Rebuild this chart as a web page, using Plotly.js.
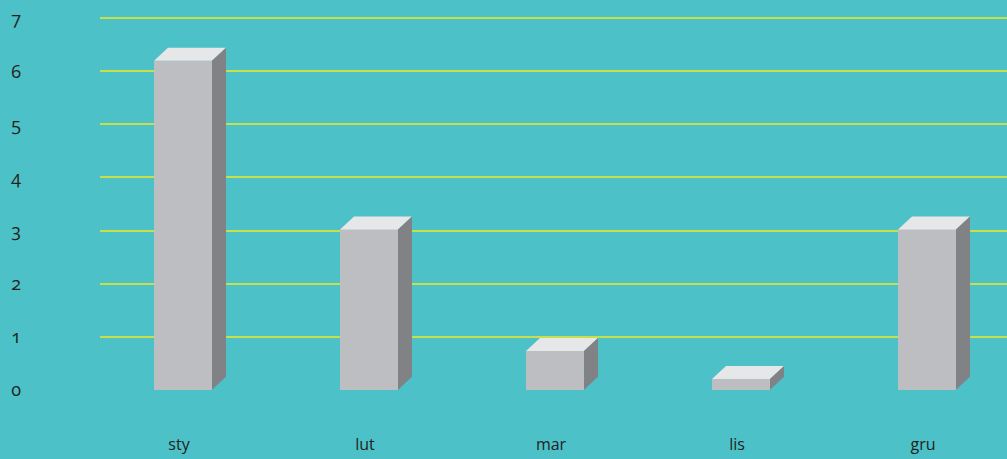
<!DOCTYPE html>
<html>
<head>
<meta charset="utf-8">
<script src="https://cdn.plot.ly/plotly-3.0.1.min.js"></script>
<style>
html,body{margin:0;padding:0;background:#4cc1c7;}
#chart{width:1007px;height:459px;}
.ytick text{font-feature-settings:"onum" 1;font-variant-numeric:oldstyle-nums;}
</style>
</head>
<body>
<div id="chart"></div>
<script>
const categories = ["sty", "lut", "mar", "lis", "gru"];
const values = [6.2, 3.02, 0.73, 0.2, 3.02];
const yTicks = [0, 1, 2, 3, 4, 5, 6, 7];

const W = 1007, H = 459;
const margin = {l: 100, r: 0, t: 13, b: 64};
const xRange = [-0.4462, 4.430];
const yRange = [-0.1, 7.1];
const plotW = W - margin.l - margin.r;
const plotH = H - margin.t - margin.b;
const pxPerX = plotW / (xRange[1] - xRange[0]);
const pxPerY = plotH / (yRange[1] - yRange[0]);

const barW = 58 / pxPerX;      // front face width in data units
const depthX = 14 / pxPerX;    // 3D depth offset
const depthY = 13 / pxPerY;

const xs = categories.map((c, i) => i);

const traces = [{
  type: "bar",
  x: xs,
  y: values,
  width: barW,
  marker: {color: "#bdbec1", line: {width: 0}},
  hoverinfo: "skip"
}];

values.forEach((v, i) => {
  const x0 = i - barW / 2, x1 = i + barW / 2;
  traces.push({
    type: "scatter", mode: "lines", fill: "toself",
    x: [x0, x1, x1 + depthX, x0 + depthX, x0],
    y: [v, v, v + depthY, v + depthY, v],
    fillcolor: "#e6e7e8", line: {width: 0, color: "#e6e7e8"},
    hoverinfo: "skip", showlegend: false
  });
  traces.push({
    type: "scatter", mode: "lines", fill: "toself",
    x: [x1, x1 + depthX, x1 + depthX, x1, x1],
    y: [0, depthY, v + depthY, v, 0],
    fillcolor: "#808285", line: {width: 0, color: "#808285"},
    hoverinfo: "skip", showlegend: false
  });
});

const layout = {
  width: W, height: H,
  margin: margin,
  paper_bgcolor: "#4cc1c7",
  plot_bgcolor: "#4cc1c7",
  showlegend: false,
  font: {family: "Open Sans, sans-serif", color: "#231f20", size: 15},
  xaxis: {
    range: xRange,
    tickvals: xs,
    ticktext: categories,
    showgrid: false, zeroline: false, showline: false, ticks: "",
    ticklabelstandoff: 38,
    ticklabelshift: -4,
    tickfont: {size: 16, color: "#231f20"},
    fixedrange: true
  },
  yaxis: {
    range: yRange,
    tickvals: yTicks,
    ticktext: yTicks.map(String),
    showgrid: true, gridcolor: "#c6df4a", gridwidth: 2,
    zeroline: true, zerolinecolor: "#4cc1c7", zerolinewidth: 3,
    showline: false, ticks: "",
    ticklabelstandoff: 78,
    tickfont: {size: 18, color: "#231f20"},
    fixedrange: true
  },
  bargap: 0
};

Plotly.newPlot("chart", traces, layout, {displayModeBar: false, staticPlot: true});
</script>
</body>
</html>
